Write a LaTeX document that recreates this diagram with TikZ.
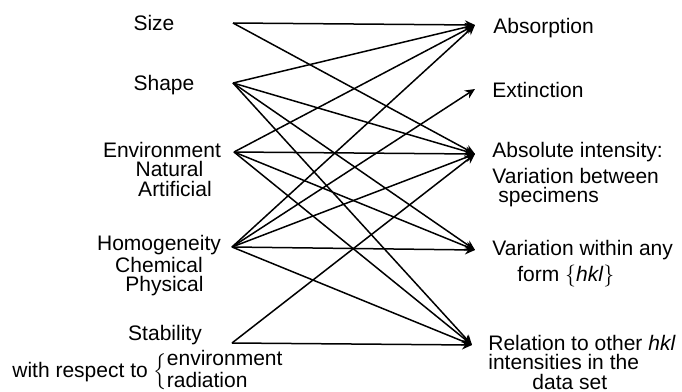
\documentclass[tikz,border=0pt]{standalone}
\usepackage{fontspec}
\setmainfont{Liberation Sans}
\usetikzlibrary{arrows.meta,positioning}

\begin{document}
\begin{tikzpicture}[x=0.5pt,y=-0.5pt,
  txt/.style={font=\fontsize{10.5}{9.6}\selectfont, inner sep=0pt},
  link/.style={line width=0.75pt, -{Stealth[length=5pt,width=4.6pt]}}]
  \useasboundingbox (0,0) rectangle (682,392);
  % ends of the connectors
  \coordinate (size) at (233,23);
  \coordinate (shape) at (233,83);
  \coordinate (env) at (234,152);
  \coordinate (homog) at (232,247);
  \coordinate (stab) at (232,343);
  \coordinate (absorp) at (475,25);
  \coordinate (extinct) at (475,89);
  \coordinate (absint) at (475,154);
  \coordinate (varform) at (475,250);
  \coordinate (relation) at (472,345);

  % left column
  \node[txt, anchor=north] (tsize) at (154,15) {Size};
  \node[txt, anchor=north] (tshape) at (164,75) {Shape};
  \node[txt, anchor=north, align=center] (tenv) at (162,142) {Environment\\\hspace{7.5pt}Natural\\\hspace{13pt}Artificial};
  \node[txt, anchor=north, align=center] (thomog) at (159,235) {Homogeneity\\Chemical\\\hspace{5.5pt}Physical};
  \node[txt, anchor=north] (tstab) at (165,325) {Stability};
  \node[txt, anchor=west] (tresp) at (12,372) {with respect to $\Big\{$\begin{tabular}{@{}l@{}}environment\\[0.5pt]radiation\end{tabular}};

  % right column
  \node[txt, anchor=north west] (tabsorp) at (493,18) {Absorption};
  \node[txt, anchor=north west] (textinct) at (492,82) {Extinction};
  \node[txt, anchor=north west, align=left] (tabsint) at (492,142) {Absolute intensity:\\[2pt]Variation between\\\hspace{3pt}specimens};
  \node[txt, anchor=north west, align=left] (tvarform) at (492,240) {Variation within any\\[1.5pt]\hspace{12.5pt}form $\{$\textit{hkl}$\}$};
  \node[txt, anchor=north west, align=left] (trelation) at (488,335) {Relation to other \textit{hkl}\\intensities in the\\\hspace{22pt}data set};

  \foreach \from/\to in {size/absorp, size/absint,
      shape/absorp, shape/absint, shape/varform, shape/relation,
      env/absorp, env/absint, env/varform, env/relation,
      homog/absorp, homog/extinct, homog/absint, homog/varform, homog/relation,
      stab/absint, stab/relation} {
    \draw[link] (\from) -- (\to);
  }
\end{tikzpicture}
\end{document}
